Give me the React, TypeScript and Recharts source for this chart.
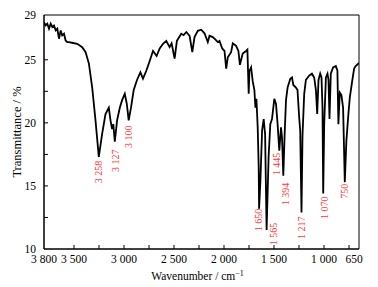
import React from 'react';
import { ComposedChart, Line, XAxis, YAxis, ReferenceArea, Scatter, Label } from 'recharts';

const wavenumbers = [3800,3783,3767,3750,3733,3717,3700,3683,3667,3650,3633,3618,3600,3584,3568,3551,3521,3468,3418,3384,3351,3318,3285,3252,3219,3185,3152,3135,3119,3107,3092,3069,3042,3019,2992,2972,2953,2930,2903,2870,2836,2810,2776,2743,2710,2674,2643,2610,2577,2544,2524,2494,2471,2427,2404,2377,2344,2317,2295,2262,2228,2195,2162,2145,2112,2085,2062,2045,2018,1995,1978,1962,1929,1912,1879,1856,1841,1813,1779,1766,1753,1746,1729,1713,1696,1686,1676,1663,1653,1649,1636,1619,1603,1589,1574,1554,1537,1520,1497,1480,1464,1447,1430,1420,1407,1394,1380,1364,1337,1320,1307,1281,1265,1248,1238,1225,1215,1198,1181,1148,1121,1098,1081,1068,1055,1038,1025,1015,1008,998,981,965,955,945,932,909,882,866,856,842,826,809,792,776,756,742,722,699,683,650];

const transmittance = [27.98,27.72,27.86,27.46,27.86,27.6,27.72,27.33,27.46,26.67,27.33,26.93,27.06,26.53,26.4,26.4,26.35,26.27,26.0,25.6,24.7,22.8,20.2,17.3,19.1,20.7,21.2,20.2,19.5,19.9,18.5,20.2,21.2,21.8,22.3,21.5,20.2,21.2,22.6,23.4,24.0,23.5,24.15,24.9,25.7,25.3,25.9,26.27,26.5,26.0,26.3,25.1,26.5,27.06,26.95,27.2,26.9,25.6,26.8,27.3,27.38,27.1,26.4,26.9,26.8,26.6,26.4,26.5,25.9,25.7,24.3,25.2,25.6,26.3,26.1,25.7,24.6,25.5,25.7,25.8,22.3,24.1,24.4,23.3,22.6,21.2,21.9,19.65,16.5,13.2,15.4,19.4,20.3,19.1,11.5,17.3,19.9,20.3,21.9,21.5,19.9,17.8,19.65,18.86,15.8,19.0,21.8,22.8,23.5,23.6,23.0,22.8,22.6,20.4,19.4,12.9,19.0,22.3,23.4,23.75,23.9,23.6,22.6,20.7,23.4,23.9,23.6,21.2,14.4,19.9,23.6,23.9,23.4,20.3,23.9,24.4,24.5,24.15,19.9,22.4,22.2,21.2,15.3,18.6,20.7,22.0,23.1,24.3,24.5,24.75];

// peak annotations: label text, wavenumber where it sits, transmittance at its upper end
const peakLabels = ['3 258', '3 127', '3 100', '1 650', '1 565', '1 445', '1 394', '1 217', '1 070', '750'];
const peakWavenumbers = [3252, 3085, 2956, 1659, 1500, 1477, 1380, 1228, 999, 792];
const peakTops = [17.0, 17.88, 19.79, 13.2, 12.09, 17.64, 15.25, 12.57, 14.16, 15.17];

const xTicks = [3800, 3500, 3250, 3000, 2750, 2500, 2250, 2000, 1750, 1500, 1250, 1000, 750, 650];
const xTickLabels: Record<number, string> = { 3800: '3 800', 3500: '3 500', 3000: '3 000', 2500: '2 500', 2000: '2 000', 1500: '1 500', 1000: '1 000', 650: '650' };
const yTicks = [10, 12.5, 15, 17.5, 20, 22.5, 25, 28.55];
const yTickLabels: Record<number, string> = { 10: '10', 15: '15', 20: '20', 25: '25', 28.55: '29' };

const spectrum = wavenumbers.map((wn, i) => ({ wn, t: transmittance[i] }));
const peaks = peakLabels.map((label, i) => ({ label, wn: peakWavenumbers[i], t: peakTops[i] }));

const FONT = '"Liberation Serif", "Times New Roman", serif';
const MARGIN = 6;

const XTick = (props: any) => {
  const { x, y, payload } = props;
  const axisY = y - MARGIN;
  const text = xTickLabels[payload.value];
  const shift = payload.value === 650 ? -5 : 0;
  return (
    <g>
      {payload.value !== 3800 && payload.value !== 650 && (
        <line x1={x} x2={x} y1={axisY} y2={axisY - 4} stroke="#000" strokeWidth={1} />
      )}
      {text && (
        <text x={x + shift} y={y} dy="0.72em" textAnchor="middle" fontSize={11.5} fontFamily={FONT} fill="#000">
          {text}
        </text>
      )}
    </g>
  );
};

const YTick = (props: any) => {
  const { x, y, payload } = props;
  const axisX = x + 8;
  const text = yTickLabels[payload.value];
  return (
    <g>
      {payload.value !== 10 && payload.value !== 28.55 && (
        <line x1={axisX} x2={axisX + 4} y1={y} y2={y} stroke="#000" strokeWidth={1} />
      )}
      {text && (
        <text x={x} y={y} dy="0.35em" textAnchor="end" fontSize={11.5} fontFamily={FONT} fill="#000">
          {text}
        </text>
      )}
    </g>
  );
};

const PeakText = (props: any) => {
  const { cx, cy, payload } = props;
  return (
    <text
      x={cx}
      y={cy}
      transform={`rotate(-90 ${cx} ${cy})`}
      textAnchor="end"
      dominantBaseline="central"
      fontSize={10}
      fontFamily={FONT}
      fill="#ff3535"
    >
      {payload.label}
    </text>
  );
};

export default function App() {
  return (
    <div style={{ position: 'absolute', left: 0, top: 0, width: 378, height: 287, background: '#fff' }}>
      <ComposedChart width={378} height={287} data={spectrum} margin={{ top: 15, right: 19, left: 0, bottom: 0 }}>
        <XAxis
          type="number"
          dataKey="wn"
          domain={[650, 3800]}
          reversed
          allowDataOverflow
          ticks={xTicks}
          interval={0}
          height={38}
          tickSize={0}
          tickMargin={MARGIN}
          tickLine={false}
          tick={<XTick />}
          axisLine={{ stroke: '#000', strokeWidth: 1 }}
        >
          <Label
            content={(p: any) => {
              const vb = p.viewBox;
              const cx = vb.x + vb.width / 2 - 4;
              return (
                <text x={cx} y={vb.y + 31} textAnchor="middle" fontSize={11.5} fontFamily={FONT} fill="#000">
                  Wavenumber / cm<tspan dy={-4} fontSize={8}>−1</tspan>
                </text>
              );
            }}
          />
        </XAxis>
        <YAxis
          type="number"
          domain={[10, 28.55]}
          allowDataOverflow
          ticks={yTicks}
          interval={0}
          width={44}
          tickSize={0}
          tickMargin={8}
          tickLine={false}
          tick={<YTick />}
          axisLine={{ stroke: '#000', strokeWidth: 1 }}
        >
          <Label
            content={(p: any) => {
              const vb = p.viewBox;
              const cy = vb.y + vb.height / 2;
              const cx = 17;
              return (
                <text
                  x={cx}
                  y={cy}
                  transform={`rotate(-90 ${cx} ${cy})`}
                  textAnchor="middle"
                  dominantBaseline="central"
                  fontSize={12.5}
                  fontFamily={FONT}
                  fill="#000"
                >
                  Transmittance / %
                </text>
              );
            }}
          />
        </YAxis>
        <ReferenceArea x1={3800} x2={650} y1={10} y2={28.55} fill="none" stroke="#000" strokeWidth={1} ifOverflow="visible" />
        <Line type="linear" dataKey="t" stroke="#000" strokeWidth={1.8} dot={false} isAnimationActive={false} />
        <Scatter data={peaks} dataKey="t" shape={<PeakText />} isAnimationActive={false} />
      </ComposedChart>
    </div>
  );
}
